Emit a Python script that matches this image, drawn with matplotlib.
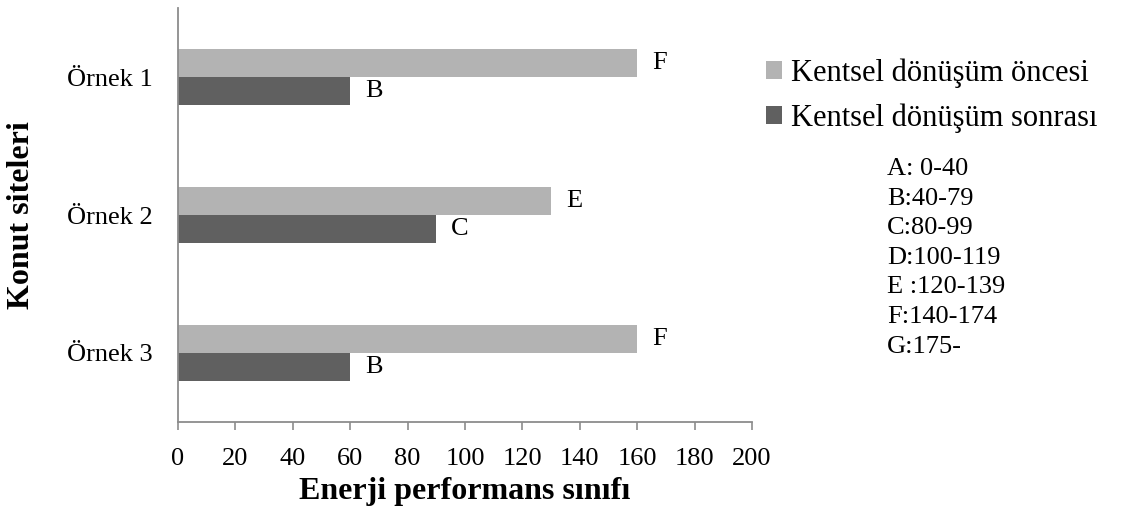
import matplotlib.pyplot as plt
import numpy as np

plt.rcParams["font.family"] = ["Liberation Serif", "DejaVu Serif"]

sites = ["Örnek 1", "Örnek 2", "Örnek 3"]
before = [160, 130, 160]
after = [60, 90, 60]
before_cls = ["F", "E", "F"]
after_cls = ["B", "C", "B"]
classes = ["A: 0-40", "B:40-79", "C:80-99", "D:100-119", "E :120-139", "F:140-174", "G:175-"]

light = "#b3b3b3"
dark = "#606060"
axis_col = "#8c8c8c"

fig = plt.figure(figsize=(11.22, 5.28), dpi=100)
ax = fig.add_axes([0.1586, 0.2008, 0.5116, 0.784])

y = np.arange(len(sites))
h = 0.203
b1 = ax.barh(y - h / 2, before, height=h, color=light, label="Kentsel dönüşüm öncesi")
b2 = ax.barh(y + h / 2, after, height=h, color=dark, label="Kentsel dönüşüm sonrası")

# energy class letters next to the bars
for yi, v, c in zip(y, before, before_cls):
    ax.text(v + 5.2, yi - h / 2, c, va="center", ha="left", fontsize=19)
for yi, v, c in zip(y, after, after_cls):
    ax.text(v + 5.2, yi + h / 2, c, va="center", ha="left", fontsize=19)

ax.set_xlim(0, 200)
ax.set_ylim(2.5, -0.5)
ax.set_xticks(range(0, 201, 20))
ax.set_yticks(y)
ax.set_yticklabels(sites)
ax.tick_params(axis="y", length=0, pad=18.5, labelsize=19)
ax.tick_params(axis="x", length=6, width=1.2, color=axis_col, pad=13, labelsize=19, direction="out")
for s in ["top", "right"]:
    ax.spines[s].set_visible(False)
for s in ["left", "bottom"]:
    ax.spines[s].set_color(axis_col)
    ax.spines[s].set_linewidth(1.3)

ax.set_xlabel("Enerji performans sınıfı", fontsize=23, fontweight="bold", va="center")
ax.xaxis.set_label_coords(0.5, -0.167)
ax.set_ylabel("Konut siteleri", fontsize=23, fontweight="bold", va="center")
ax.yaxis.set_label_coords(-0.272, 0.5)

fig.legend(handles=[b1, b2], loc="upper left", bbox_to_anchor=(0.658, 0.941),
           frameon=False, fontsize=22, handlelength=0.52, handleheight=0.52,
           handletextpad=0.3, labelspacing=0.5)

for i, t in enumerate(classes):
    fig.text(0.7906, 1 - (169 + i * 29.6) / 528, t, fontsize=19, va="center", ha="left")

fig.savefig("out.png", dpi=100)
